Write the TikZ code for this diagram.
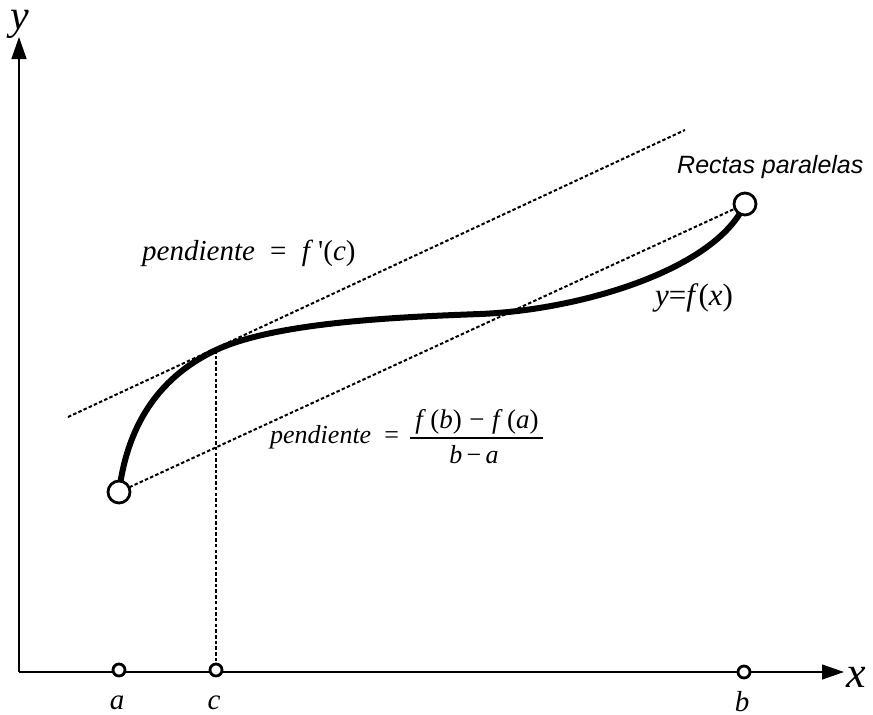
\documentclass[tikz,border=0pt]{standalone}
\usepackage{fontspec}
\setmainfont{Liberation Serif}
\newfontfamily\sansf{Liberation Sans}
\usetikzlibrary{arrows.meta}
\tikzset{
  axis/.style={line width=1.3pt,-{Triangle[length=22pt,width=15pt]}},
  dotln/.style={line width=2pt,dash pattern=on 3.5pt off 2.2pt},
  bigpt/.style={circle,draw,fill=white,line width=2.8pt,minimum size=22pt,inner sep=0pt},
  smallpt/.style={circle,draw,fill=white,line width=2.8pt,minimum size=12pt,inner sep=0pt},
  curve/.style={line width=6pt},
  lbl/.style={inner sep=0pt,anchor=base},
}
\begin{document}
\begin{tikzpicture}[x=1pt,y=-1pt]
\useasboundingbox (0,0) rectangle (873,715);
% axes
\coordinate (O) at (19,672);
\coordinate (xt) at (844,672);
\coordinate (yt) at (19,37);
\draw[axis] (O) -- (xt);
\draw[axis] (O) -- (yt);
\node[lbl,anchor=base west] (xl) at (846,687) {\fontsize{44}{48}\selectfont\itshape x};
\node[lbl,anchor=base west] (yl) at (10,29) {\fontsize{42}{46}\selectfont\itshape y};
% tangent and secant lines
\coordinate (t1) at (68,417);
\coordinate (t2) at (685,130);
\draw[dotln] (t1) -- (t2);
\coordinate (A) at (119,492);
\coordinate (B) at (745,204);
\coordinate (C) at (216,350);
\coordinate (D) at (480,314);
\draw[dotln] (A) -- (B);
% points on x axis
\node[smallpt] (pa) at (119,670) {};
\node[smallpt] (pc) at (216,670) {};
\node[smallpt] (pb) at (744,672) {};
\draw[dotln] (C) -- (pc);
% curve
\draw[curve] (A) .. controls (128,420) and (163,375) .. (C)
  .. controls (276,322) and (400,317) .. (D)
  .. controls (580,310) and (715,270) .. (B);
\node[bigpt] (nA) at (A) {};
\node[bigpt] (nB) at (B) {};
% labels on x axis
\node[lbl] (la) at (117,709) {\fontsize{29}{32}\selectfont\itshape a};
\node[lbl] (lc) at (214,709) {\fontsize{29}{32}\selectfont\itshape c};
\node[lbl] (lb) at (742,711) {\fontsize{29}{32}\selectfont\itshape b};
% text labels
\node[lbl,anchor=base west] (p1) at (142,260) {\fontsize{29}{32}\selectfont\textit{pendiente}\; =\; \textit{f}\,\textquotesingle(\textit{c})};
\node[lbl,anchor=base west] (p2) at (270,443) {\fontsize{26}{30}\selectfont\textit{pendiente}\enspace=};
\coordinate (f1) at (410,438);
\coordinate (f2) at (543,438);
\draw[line width=1.3pt] (f1) -- (f2);
\node[lbl] (num) at (477,428) {\fontsize{27}{30}\selectfont\textit{f}\,(\textit{b})\;−\;\textit{f}\,(\textit{a})};
\node[lbl] (den) at (474,463) {\fontsize{26}{30}\selectfont\textit{b}\,−\,\textit{a}};
\node[lbl,anchor=base west] (yf) at (655,305) {\fontsize{31}{34}\selectfont\textit{y}=\textit{f}(\textit{x})};
\node[lbl,anchor=base west] (rp) at (677,173) {\fontsize{25}{30}\selectfont\sansf\itshape Rectas paralelas};
\end{tikzpicture}
\end{document}
